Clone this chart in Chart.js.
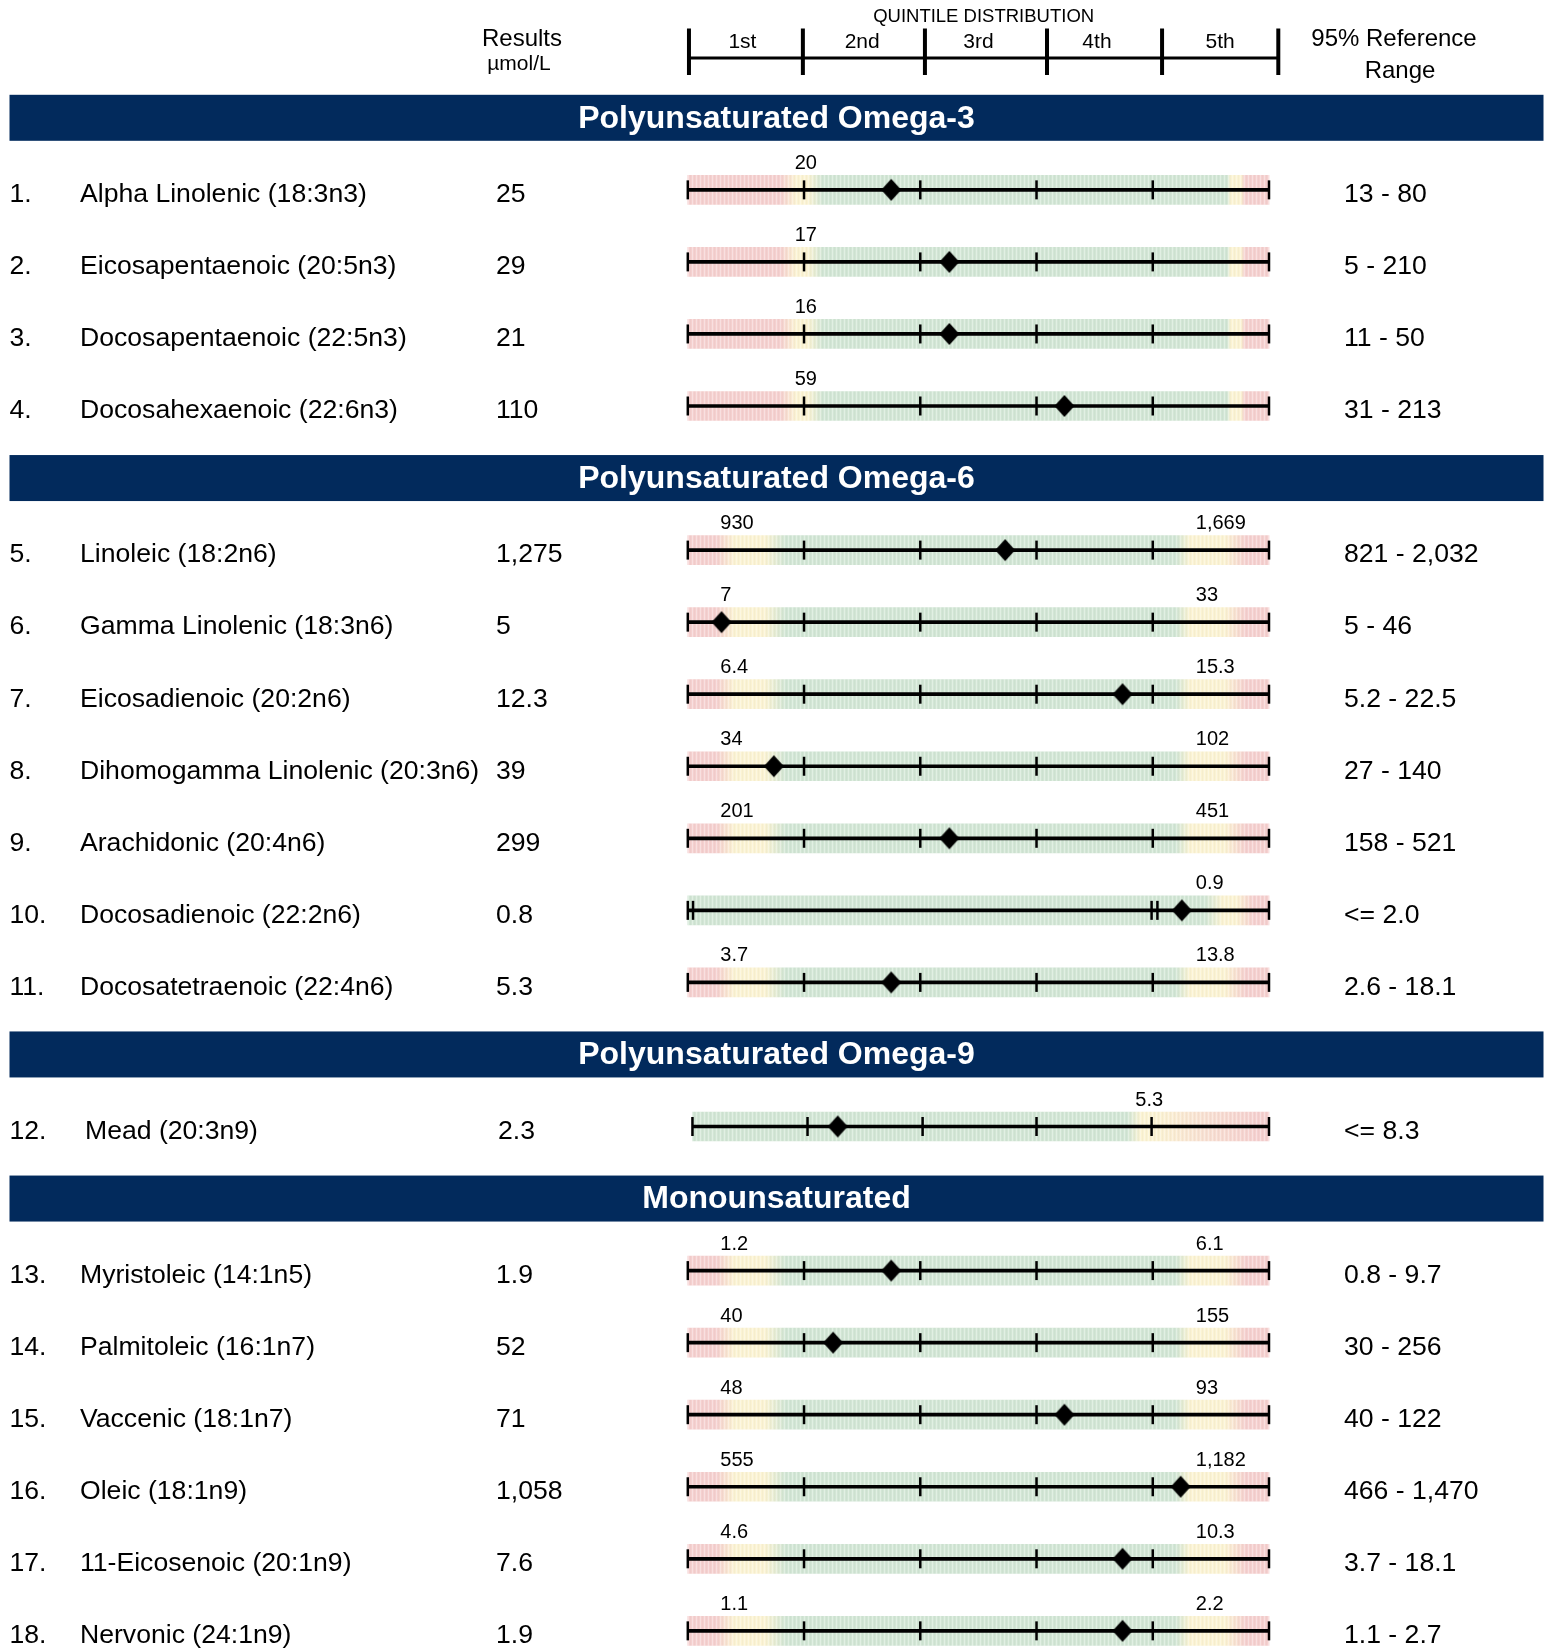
<!DOCTYPE html>
<html>
<head>
<meta charset="utf-8">
<script src="https://cdn.jsdelivr.net/npm/chart.js@4/dist/chart.umd.min.js"></script>
<style>
html,body{margin:0;padding:0;background:#ffffff;}
#wrap{position:relative;width:1556px;height:1648px;}
canvas{display:block;}
</style>
</head>
<body>
<div id="wrap"><canvas id="c" width="1556" height="1648"></canvas></div>
<script>
// ---------------- DATA ----------------
const sections = ['Polyunsaturated Omega-3', 'Polyunsaturated Omega-6', 'Polyunsaturated Omega-9', 'Monounsaturated'];
const sectionOf = [0,0,0,0, 1,1,1,1,1,1,1, 2, 3,3,3,3,3,3];
const analytes = [
  'Alpha Linolenic (18:3n3)', 'Eicosapentaenoic (20:5n3)', 'Docosapentaenoic (22:5n3)', 'Docosahexaenoic (22:6n3)',
  'Linoleic (18:2n6)', 'Gamma Linolenic (18:3n6)', 'Eicosadienoic (20:2n6)', 'Dihomogamma Linolenic (20:3n6)',
  'Arachidonic (20:4n6)', 'Docosadienoic (22:2n6)', 'Docosatetraenoic (22:4n6)',
  'Mead (20:3n9)',
  'Myristoleic (14:1n5)', 'Palmitoleic (16:1n7)', 'Vaccenic (18:1n7)', 'Oleic (18:1n9)', '11-Eicosenoic (20:1n9)', 'Nervonic (24:1n9)'
];
const results = ['25','29','21','110','1,275','5','12.3','39','299','0.8','5.3','2.3','1.9','52','71','1,058','7.6','1.9'];
const refRanges = ['13 - 80','5 - 210','11 - 50','31 - 213','821 - 2,032','5 - 46','5.2 - 22.5','27 - 140','158 - 521','<= 2.0','2.6 - 18.1','<= 8.3','0.8 - 9.7','30 - 256','40 - 122','466 - 1,470','3.7 - 18.1','1.1 - 2.7'];
const lowLimitLabels  = ['20','17','16','59','930','7','6.4','34','201','','3.7','','1.2','40','48','555','4.6','1.1'];
const highLimitLabels = ['','','','','1,669','33','15.3','102','451','0.9','13.8','5.3','6.1','155','93','1,182','10.3','2.2'];
// label anchors, in quintile units (0..5)
const lowLabelAt  = [0.92,0.92,0.92,0.92,0.28,0.28,0.28,0.28,0.28,0,0.28,0,0.28,0.28,0.28,0.28,0.28,0.28];
const highLabelAt = [0,0,0,0,4.37,4.37,4.37,4.37,4.37,4.37,4.37,3.85,4.37,4.37,4.37,4.37,4.37,4.37];
// patient result position on the quintile scale (0..5)
const markerPos = [1.75,2.25,2.25,3.24,2.73,0.29,3.74,0.74,2.25,4.25,1.75,1.29,1.75,1.25,3.24,4.24,3.74,3.74];
const barStart  = [0,0,0,0,0,0,0,0,0,0,0,0.04,0,0,0,0,0,0];
const bandType  = ['A','A','A','A','B','B','B','B','B','C','B','D','B','B','B','B','B','B'];
const bandStops = {
  A: [[0,'R'],[0.80,'R'],[0.93,'Y'],[1.03,'Y'],[1.16,'G'],[4.64,'G'],[4.67,'Y'],[4.76,'Y'],[4.79,'R'],[5,'R']],
  B: [[0,'R'],[0.25,'R'],[0.40,'Y'],[0.66,'Y'],[0.84,'G'],[4.20,'G'],[4.32,'Y'],[4.62,'Y'],[4.80,'R'],[5,'R']],
  C: [[0,'G'],[4.45,'G'],[4.60,'Y'],[4.72,'Y'],[4.86,'R'],[5,'R']],
  D: [[0,'G'],[3.78,'G'],[3.90,'Y'],[4.03,'Y'],[4.45,'P'],[4.90,'R'],[5,'R']]
};
const quintileLabels = ['1st','2nd','3rd','4th','5th'];
const quintileLabelAt = [0.47, 1.50, 2.50, 3.52, 4.58];
const quintileHeaderAt = [0.01, 0.99, 2.04, 3.09, 4.08, 5.08];
const defaultTicks = [0,1,2,3,4,5];
const specialTicks = {9: [0,0.045,3.99,4.04,5], 11: [0.04,1.03,2.02,3.0,3.99,5]};

// ---------------- STYLE ----------------
const FONT = '"Liberation Sans", Arial, Helvetica, sans-serif';
const NAVY = '#022a5c';
const bandColors = {R:'#f5d0cf', Y:'#fbf3d3', G:'#d2e6d5', P:'#f8e0d2'};

// slot layout: each section header occupies one slot
const slotOf = analytes.map((_, i) => i + sectionOf[i] + 1);
const sectionSlot = sections.map((_, s) => sectionOf.indexOf(s) + s);
const lastSlot = slotOf[slotOf.length - 1];

// diamond marker
const dia = document.createElement('canvas');
dia.width = 22; dia.height = 24;
(function(){ const d = dia.getContext('2d'); d.fillStyle = '#000'; d.beginPath();
  d.moveTo(11,1); d.lineTo(21,12); d.lineTo(11,23); d.lineTo(1,12); d.closePath(); d.fill(); })();

// stripe texture
const stc = document.createElement('canvas'); stc.width = 4; stc.height = 4;
(function(){ const s = stc.getContext('2d'); s.fillStyle = 'rgba(255,255,255,0.35)'; s.fillRect(0,0,1,4);
  s.fillStyle = 'rgba(0,0,0,0.025)'; s.fillRect(2,0,1,4); })();
const stripePattern = document.createElement('canvas').getContext('2d').createPattern(stc, 'repeat');

const bandData = analytes.map((_, i) => ({y: slotOf[i], x: [barStart[i], 5]}));
const tickData = [];
analytes.forEach((_, i) => (specialTicks[i] || defaultTicks).forEach(t => tickData.push({x: t, y: slotOf[i]})));
const markerData = analytes.map((_, i) => ({x: markerPos[i], y: slotOf[i]}));

function bandGradient(ctx) {
  const chart = ctx.chart;
  if (!chart.chartArea || ctx.type !== 'data') return 'rgba(0,0,0,0)';
  const i = ctx.dataIndex;
  const xs = chart.scales.x;
  const s = barStart[i];
  const g = chart.ctx.createLinearGradient(xs.getPixelForValue(s), 0, xs.getPixelForValue(5), 0);
  bandStops[bandType[i]].forEach(([p, k]) => {
    g.addColorStop(Math.min(1, Math.max(0, (p - s) / (5 - s))), bandColors[k]);
  });
  return g;
}

const decorPlugin = {
  id: 'decor',
  afterDraw(chart) {
    const ctx = chart.ctx;
    const xs = chart.scales.x, ys = chart.scales.y;
    ctx.save();
    // top header
    ctx.fillStyle = '#000';
    ctx.textBaseline = 'middle';
    ctx.textAlign = 'center';
    ctx.font = '24px ' + FONT;
    ctx.fillText('Results', 522, 39);
    ctx.font = '21px ' + FONT;
    ctx.fillText('\u00b5mol/L', 519, 64);
    ctx.font = '24px ' + FONT;
    ctx.fillText('95% Reference', 1394, 39);
    ctx.fillText('Range', 1400, 71);
    ctx.font = '18.5px ' + FONT;
    const qx = quintileHeaderAt.map(v => xs.getPixelForValue(v));
    ctx.fillText('QUINTILE DISTRIBUTION', (qx[0] + qx[5]) / 2, 16.5);
    ctx.font = '21px ' + FONT;
    quintileLabels.forEach((l, k) => ctx.fillText(l, xs.getPixelForValue(quintileLabelAt[k]), 42));
    ctx.strokeStyle = '#000';
    ctx.lineWidth = 3;
    ctx.beginPath(); ctx.moveTo(qx[0], 58); ctx.lineTo(qx[5], 58); ctx.stroke();
    ctx.lineWidth = 4;
    qx.forEach(x => { ctx.beginPath(); ctx.moveTo(x, 28.5); ctx.lineTo(x, 75); ctx.stroke(); });

    // section headers
    sections.forEach((name, s) => {
      const cy = ys.getPixelForValue(sectionSlot[s]);
      ctx.fillStyle = NAVY;
      ctx.fillRect(9.5, cy - 23, 1534, 46);
      ctx.fillStyle = '#fff';
      ctx.font = 'bold 32px ' + FONT;
      ctx.textAlign = 'center';
      ctx.fillText(name, 776.5, cy + 1);
    });

    // rows
    analytes.forEach((name, i) => {
      const cy = ys.getPixelForValue(slotOf[i]);
      const ty = cy + 5;
      const shift = i === 11 ? 5 : 0;
      ctx.fillStyle = '#000';
      ctx.textAlign = 'left';
      ctx.font = '26.6px ' + FONT;
      ctx.fillText((i + 1) + '.', 9.5, ty);
      ctx.fillText(name, 80 + shift, ty);
      ctx.fillText(results[i], 496 + (i === 11 ? 2 : 0), ty);
      ctx.fillText(refRanges[i], 1344, ty);
      ctx.font = '20px ' + FONT;
      if (lowLimitLabels[i]) ctx.fillText(lowLimitLabels[i], xs.getPixelForValue(lowLabelAt[i]), cy - 26.5);
      if (highLimitLabels[i]) ctx.fillText(highLimitLabels[i], xs.getPixelForValue(highLabelAt[i]), cy - 26.5);
    });
    ctx.restore();
  }
};

new Chart(document.getElementById('c'), {
  type: 'bar',
  data: {
    datasets: [
      {
        type: 'bar', indexAxis: 'y', label: 'band', data: bandData,
        backgroundColor: bandGradient, grouped: false,
        categoryPercentage: 1, barPercentage: 1, maxBarThickness: 29,
        borderWidth: 0, order: 4, clip: false
      },
      {
        type: 'bar', indexAxis: 'y', label: 'stripes', data: bandData,
        backgroundColor: stripePattern, grouped: false,
        categoryPercentage: 1, barPercentage: 1, maxBarThickness: 29,
        borderWidth: 0, order: 3, clip: false
      },
      {
        type: 'bar', indexAxis: 'y', label: 'axis', data: bandData,
        backgroundColor: '#000', grouped: false,
        categoryPercentage: 1, barPercentage: 1, maxBarThickness: 3,
        borderWidth: 0, order: 2, clip: false
      },
      {
        type: 'scatter', label: 'quintile ticks', data: tickData,
        showLine: false, pointStyle: 'line', pointRotation: 90,
        pointRadius: 9.5, pointBorderWidth: 2.5, pointBorderColor: '#000',
        order: 1, clip: false
      },
      {
        type: 'scatter', label: 'result', data: markerData,
        showLine: false, pointStyle: dia, pointRadius: 10,
        pointBackgroundColor: '#000', pointBorderWidth: 0,
        order: 0, clip: false
      }
    ]
  },
  options: {
    responsive: false,
    animation: false,
    events: [],
    layout: { padding: { left: 687.8, right: 287, top: 117.8, bottom: 1648 - (117.8 + 72.05 * 21) } },
    plugins: { legend: { display: false }, tooltip: { enabled: false } },
    scales: {
      x: { type: 'linear', min: 0, max: 5, display: false, offset: false, grid: { display: false } },
      y: { type: 'linear', min: 0, max: lastSlot, reverse: true, display: false, offset: false,
           ticks: { stepSize: 1 }, grid: { display: false } }
    }
  },
  plugins: [decorPlugin]
});
</script>
</body>
</html>
